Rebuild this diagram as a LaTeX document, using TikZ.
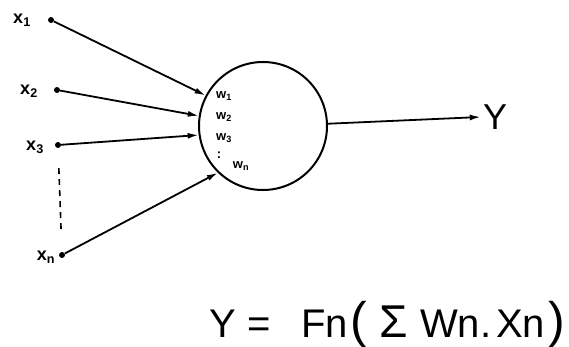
\documentclass[tikz,border=0pt]{standalone}
\usepackage{fontspec}
\setmainfont{Liberation Sans}
\usetikzlibrary{arrows.meta}

\begin{document}
\begin{tikzpicture}[
    x=1pt, y=-1pt,
    dot/.style={circle, fill, inner sep=0pt, minimum size=6pt},
    inp/.style={font=\fontsize{18}{20}\selectfont\bfseries, inner sep=0pt},
    wgt/.style={font=\fontsize{13}{14}\selectfont\bfseries, inner sep=0pt},
    arr/.style={-{Latex[length=11pt,width=6pt]}, line width=1.8pt}
  ]
  \useasboundingbox (0,0) rectangle (569,347);

  \node[circle, draw, line width=2pt, minimum size=128pt, inner sep=0pt] (neuron) at (263,126) {};

  \node[dot] (d1) at (51,20) {};
  \node[dot] (d2) at (57,90) {};
  \node[dot] (d3) at (58,145) {};
  \node[dot] (dn) at (62,255) {};

  \node[inp] (x1) at (22,20) {x\textsubscript{1}};
  \node[inp] (x2) at (29,91) {x\textsubscript{2}};
  \node[inp] (x3) at (35,147) {x\textsubscript{3}};
  \node[inp] (xn) at (46,257) {x\textsubscript{n}};

  \node[wgt] (w1) at (224,96) {w\textsubscript{1}};
  \node[wgt] (w2) at (224,117) {w\textsubscript{2}};
  \node[wgt] (w3) at (224,138) {w\textsubscript{3}};
  \node[wgt] (wd) at (219,155) {:};
  \node[wgt] (wn) at (241,166) {w\textsubscript{n}};

  \draw[arr] (d1) -- (neuron.152);
  \draw[arr] (d2) -- (neuron.171);
  \draw[arr] (d3) -- (neuron.188);
  \draw[arr] (dn) -- (neuron.226);
  \draw[dashed, line width=1.6pt, dash pattern=on 6pt off 5pt, shorten <=20pt, shorten >=18pt] (d3) -- (dn);

  \node[font=\fontsize{36}{38}\selectfont, inner sep=2pt] (y) at (495,117) {Y};
  \draw[arr] (neuron.2) -- (y.west);

  \node[font=\fontsize{40}{42}\selectfont, anchor=base west, inner sep=0pt] (eq) at (209,337)
    {Y\hspace{12pt}=\hspace{30pt}Fn\hspace{3pt}{\fontsize{50}{52}\selectfont(}\hspace{12pt}{\fontsize{46}{48}\selectfont Σ}\hspace{12pt}Wn.\hspace{5pt}Xn\hspace{3pt}{\fontsize{50}{52}\selectfont)}};
\end{tikzpicture}
\end{document}
